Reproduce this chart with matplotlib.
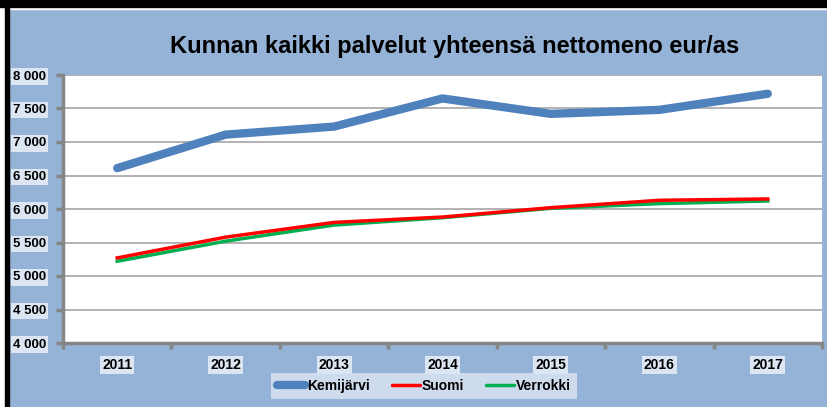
import matplotlib.pyplot as plt
from matplotlib.patches import Rectangle

years = ['2011', '2012', '2013', '2014', '2015', '2016', '2017']
kemijarvi = [6610, 7110, 7230, 7650, 7420, 7480, 7720]
suomi = [5270, 5580, 5800, 5880, 6020, 6130, 6150]
verrokki = [5220, 5520, 5760, 5870, 6010, 6080, 6120]

bg = '#95B3D7'
lab_bg = '#DCE6F2'
plt.rcParams['font.family'] = ['Liberation Sans', 'DejaVu Sans']

fig = plt.figure(figsize=(8.27, 4.07), dpi=100)
fig.patch.set_facecolor(bg)
# black frame at top and left, white strip outside it
fig.add_artist(Rectangle((0, 0), 5 / 827, 1, transform=fig.transFigure, color='white', zorder=5))
fig.add_artist(Rectangle((0, 1 - 7 / 407), 1, 7 / 407, transform=fig.transFigure, color='black', zorder=6))
fig.add_artist(Rectangle((0, 1 - 9 / 407), 1, 2 / 407, transform=fig.transFigure, color='white', zorder=5))
fig.add_artist(Rectangle((5 / 827, 0), 4 / 827, 1 - 7 / 407, transform=fig.transFigure, color='black', zorder=6))

ax = fig.add_axes([63 / 827, 1 - 343 / 407, (822 - 63) / 827, (343 - 75) / 407])
x = range(len(years))
ax.plot(x, kemijarvi, color='#4F81BD', lw=6, solid_capstyle='round', label='Kemijärvi', zorder=3)
ax.plot(x, suomi, color='#FF0000', lw=2.5, label='Suomi', zorder=4)
ax.plot(x, verrokki, color='#00B050', lw=2.5, label='Verrokki', zorder=3)

ax.set_xlim(-0.5, 6.5)
ax.set_ylim(4000, 8000)
ax.set_yticks(range(4000, 8001, 500))
ax.set_yticklabels([f'{v // 1000} {v % 1000:03d}' for v in range(4000, 8001, 500)])
ax.set_xticks(list(x))
ax.set_xticklabels(years)
ax.set_xticks([i - 0.5 for i in range(8)], minor=True)
ax.grid(axis='y', color='#A6A6A6', lw=1.2)
ax.set_axisbelow(True)
for s in ['top', 'right']:
    ax.spines[s].set_visible(False)
for s in ['left', 'bottom']:
    ax.spines[s].set_color('#868686')
    ax.spines[s].set_linewidth(2.5)
ax.tick_params(axis='y', colors='#868686', length=5, width=2.5, pad=7, labelcolor='black')
ax.tick_params(axis='x', which='major', length=0, pad=11, labelcolor='black')
ax.tick_params(axis='x', which='minor', colors='#868686', length=4, width=2.5)
for t in ax.get_yticklabels():
    t.set_fontweight('bold')
    t.set_fontsize(9.5)
    t.set_bbox(dict(facecolor=lab_bg, edgecolor='none', pad=1.5))
for t in ax.get_xticklabels():
    t.set_fontweight('bold')
    t.set_fontsize(10)
    t.set_bbox(dict(facecolor=lab_bg, edgecolor='none', pad=1.5))

fig.text(455 / 827, 1 - 47 / 407, 'Kunnan kaikki palvelut yhteensä nettomeno eur/as',
         ha='center', va='center', fontsize=17, fontweight='bold')

leg = fig.legend(loc='center', bbox_to_anchor=(424 / 827, 1 - 386 / 407), ncol=3, frameon=True,
                 fancybox=False, fontsize=10, handlelength=2.0, handletextpad=0.15, columnspacing=1.6,
                 borderpad=0.45)
leg.get_frame().set_facecolor(lab_bg)
leg.get_frame().set_edgecolor('none')
for t in leg.get_texts():
    t.set_fontweight('bold')
for h in leg.get_lines():
    h.set_solid_capstyle('round')

fig.savefig('out.png', dpi=100, facecolor=bg)
